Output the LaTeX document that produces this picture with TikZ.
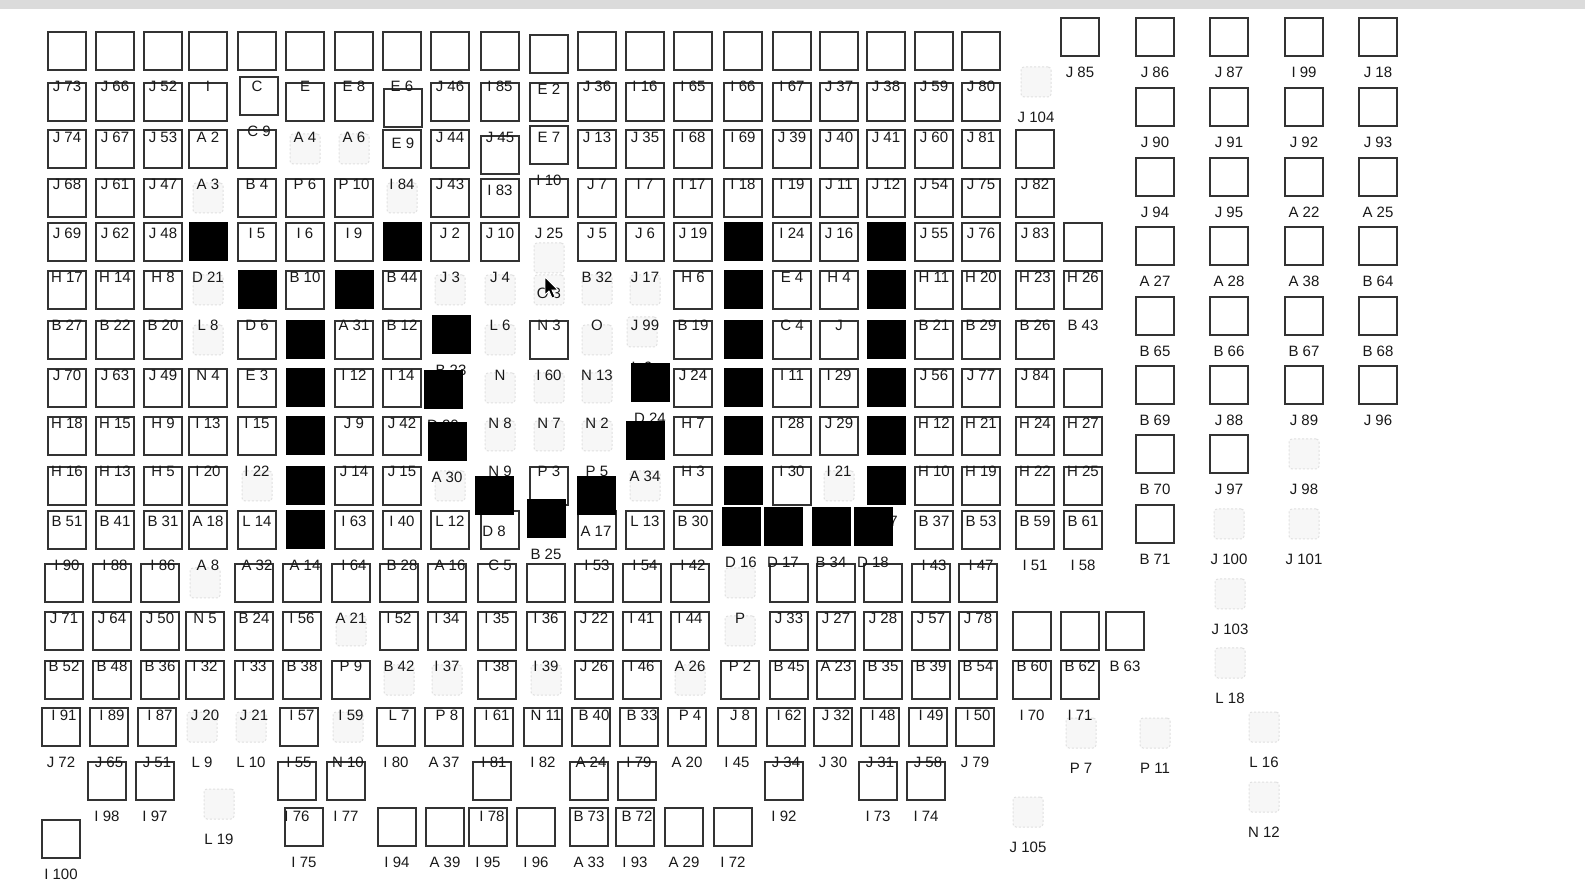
\documentclass[tikz,border=0pt]{standalone}
\usepackage{fontspec}
\setmainfont{Liberation Sans}

% column centres and label lines of the main grid (pixels)
\def\colx{{0,67,115,163,208,257,305,354,402,450,500,549,597,645,693,743,792,839,886,934,981,1035,1083,1128}}
\def\rowy{{0,86,137,184,233,277,325,375,423,471,521,565,618,666,715,762,816,862}}

% one cell: name, kind (o/f/k), x, label y, label -- drawn in passes
\def\cellpass{0}
\newcommand\putcell[5]{%
  \ifnum\cellpass=0 \if f#2\node[fcell] (sq#1) at (#3,#4-35) {};\fi\fi
  \ifnum\cellpass=1 \if o#2\node[ocell] (sq#1) at (#3,#4-35) {};\fi\fi
  \ifnum\cellpass=2 \node[tag] (lb#1) at (#3,#4) {#5};\fi
  \ifnum\cellpass=3 \if k#2\node[kcell] (sq#1) at (#3,#4-35) {};\fi\fi}

\newcommand\gridrow[3][0]{%
  \foreach \cl/\kd/\tx in {#3}{%
    \pgfmathsetmacro\cx{\colx[\cl]+#1}%
    \pgfmathsetmacro\ly{\rowy[#2]}%
    \putcell{#2-\cl}{\kd}{\cx}{\ly}{\tx}}}

\newcommand\freerow[3]{%
  \foreach \cx/\kd/\tx [count=\i] in {#3}{\putcell{#1-\i}{\kd}{\cx}{#2}{\tx}}}

\newcommand\allcells{%
  % main grid
  \gridrow{1}{1/o/J 73, 2/o/J 66, 3/o/J 52, 4/o/I, 5/o/C, 6/o/E, 7/o/E 8, 8/o/E 6, 9/o/J 46, 10/o/I 85,
    12/o/J 36, 13/o/I 16, 14/o/I 65, 15/o/I 66, 16/o/I 67, 17/o/J 37, 18/o/J 38, 19/o/J 59, 20/o/J 80}
  \putcell{1-11}{o}{549}{89}{E 2}
  \gridrow{2}{1/o/J 74, 2/o/J 67, 3/o/J 53, 4/o/A 2, 6/o/A 4, 7/o/A 6, 9/o/J 44, 10/o/J 45,
    11/o/E 7, 12/o/J 13, 13/o/J 35, 14/o/I 68, 15/o/I 69, 16/o/J 39, 17/o/J 40, 18/o/J 41, 19/o/J 60, 20/o/J 81}
  \putcell{2-5}{o}{259}{131}{C 9}
  \putcell{2-8}{o}{403}{143}{E 9}
  \gridrow{3}{1/o/J 68, 2/o/J 61, 3/o/J 47, 4/o/A 3, 5/o/B 4, 6/f/P 6, 7/f/P 10, 8/o/I 84, 9/o/J 43,
    12/o/J 7, 13/o/I 7, 14/o/I 17, 15/o/I 18, 16/o/I 19, 17/o/J 11, 18/o/J 12, 19/o/J 54, 20/o/J 75,
    21/o/J 82}
  \putcell{3-10}{o}{500}{190}{I 83}
  \putcell{3-11}{o}{549}{180}{I 10}
  \gridrow{4}{1/o/J 69, 2/o/J 62, 3/o/J 48, 4/f/, 5/o/I 5, 6/o/I 6, 7/o/I 9, 8/f/, 9/o/J 2, 10/o/J 10,
    11/o/J 25, 12/o/J 5, 13/o/J 6, 14/o/J 19, 15/o/, 16/o/I 24, 17/o/J 16, 18/o/, 19/o/J 55, 20/o/J 76,
    21/o/J 83}
  \gridrow{5}{1/o/H 17, 2/o/H 14, 3/o/H 8, 4/k/D 21, 5/o/, 6/o/B 10, 7/o/, 8/k/B 44, 9/o/J 3, 10/o/J 4,
    12/o/B 32, 13/o/J 17, 14/o/H 6, 15/k/, 16/o/E 4, 17/o/H 4, 18/k/, 19/o/H 11, 20/o/H 20,
    21/o/H 23, 22/o/H 26}
  \putcell{5-11}{f}{549}{293}{O 3}
  \gridrow{6}{1/o/B 27, 2/o/B 22, 3/o/B 20, 4/f/L 8, 5/k/D 6, 6/o/, 7/k/A 31, 8/o/B 12, 9/f/, 10/f/L 6,
    11/f/N 3, 12/f/O, 13/f/J 99, 14/o/B 19, 15/k/, 16/o/C 4, 17/o/J, 18/k/, 19/o/B 21, 20/o/B 29,
    21/o/B 26, 22/o/B 43}
  \gridrow{7}{1/o/J 70, 2/o/J 63, 3/o/J 49, 4/f/N 4, 5/o/E 3, 6/k/, 7/o/I 12, 8/o/I 14, 10/f/N,
    11/o/I 60, 12/f/N 13, 14/o/J 24, 15/k/, 16/o/I 11, 17/o/I 29, 18/k/, 19/o/J 56, 20/o/J 77,
    21/o/J 84}
  \putcell{7-9}{k}{451}{370}{B 23}
  \putcell{7-13}{f}{642}{367}{L 9}
  \gridrow{8}{1/o/H 18, 2/o/H 15, 3/o/H 9, 4/o/I 13, 5/o/I 15, 6/k/, 7/o/J 9, 8/o/J 42, 10/f/N 8,
    11/f/N 7, 12/f/N 2, 14/o/H 7, 15/k/, 16/o/I 28, 17/o/J 29, 18/k/, 19/o/H 12, 20/o/H 21,
    21/o/H 24, 22/o/H 27}
  \putcell{8-9}{k}{443}{425}{D 20}
  \putcell{8-13}{k}{650}{418}{D 24}
  \gridrow{9}{1/o/H 16, 2/o/H 13, 3/o/H 5, 4/o/I 20, 5/o/I 22, 6/k/, 7/o/J 14, 8/o/J 15, 10/f/N 9,
    11/f/P 3, 12/f/P 5, 14/o/H 3, 15/k/, 16/o/I 30, 17/o/I 21, 18/k/, 19/o/H 10, 20/o/H 19,
    21/o/H 22, 22/o/H 25}
  \putcell{9-9}{k}{447}{477}{A 30}
  \putcell{9-13}{k}{645}{476}{A 34}
  \gridrow{10}{1/o/B 51, 2/o/B 41, 3/o/B 31, 4/o/A 18, 5/f/L 14, 6/k/, 7/o/I 63, 8/o/I 40, 9/f/L 12,
    11/o/, 13/f/L 13, 14/o/B 30, 15/k/, 16/o/, 17/f/, 18/k/D 7, 19/o/B 37, 20/o/B 53,
    21/o/B 59, 22/o/B 61}
  \putcell{10-10}{k}{494}{531}{D 8}
  \putcell{10-12}{k}{596}{531}{A 17}
  \gridrow{11}{1/o/I 90, 2/o/I 88, 3/o/I 86, 4/o/A 8, 5/o/A 32, 6/k/A 14, 7/o/I 64, 8/o/B 28, 9/o/A 16, 10/o/C 5,
    12/o/I 53, 13/o/I 54, 14/o/I 42, 19/o/I 43, 20/o/I 47, 21/o/I 51, 22/o/I 58}
  \putcell{11-11}{k}{546}{554}{B 25}
  \freerow{11k}{562}{741/k/D 16, 783/k/D 17, 831/k/B 34, 873/k/D 18}
  \gridrow[-3]{12}{1/o/J 71, 2/o/J 64, 3/o/J 50, 4/f/N 5, 5/o/B 24, 6/o/I 56, 7/o/A 21, 8/o/I 52, 9/o/I 34,
    10/o/I 35, 11/o/I 36, 12/o/J 22, 13/o/I 41, 14/o/I 44, 15/f/P, 16/o/J 33, 17/o/J 27, 18/o/J 28,
    19/o/J 57, 20/o/J 78}
  \gridrow[-3]{13}{1/o/B 52, 2/o/B 48, 3/o/B 36, 4/o/I 32, 5/o/I 33, 6/o/B 38, 7/f/P 9, 8/o/B 42, 9/o/I 37,
    10/o/I 38, 11/o/I 39, 12/o/J 26, 13/o/I 46, 14/o/A 26, 15/f/P 2, 16/o/B 45, 17/o/A 23, 18/o/B 35,
    19/o/B 39, 20/o/B 54, 21/o/B 60, 22/o/B 62, 23/o/B 63}
  \gridrow[-3]{14}{1/o/I 91, 2/o/I 89, 3/o/I 87, 4/o/J 20, 5/o/J 21, 6/o/I 57, 7/o/I 59, 8/f/L 7, 9/f/P 8,
    10/o/I 61, 11/f/N 11, 12/o/B 40, 13/o/B 33, 14/f/P 4, 15/o/J 8, 16/o/I 62, 17/o/J 32, 18/o/I 48,
    19/o/I 49, 20/o/I 50, 21/o/I 70, 22/o/I 71}
  \gridrow[-6]{15}{1/o/J 72, 2/o/J 65, 3/o/J 51, 4/f/L 9, 5/f/L 10, 6/o/I 55, 7/f/N 10, 8/o/I 80, 9/o/A 37,
    10/o/I 81, 11/o/I 82, 12/o/A 24, 13/o/I 79, 14/o/A 20, 15/o/I 45, 16/o/J 34, 17/o/J 30, 18/o/J 31,
    19/o/J 58, 20/o/J 79}
  \gridrow[-8]{16}{2/o/I 98, 3/o/I 97, 6/o/I 76, 7/o/I 77, 10/o/I 78, 12/o/B 73, 13/o/B 72, 16/o/I 92,
    18/o/I 73, 19/o/I 74}
  \putcell{16-4}{f}{219}{839}{L 19}
  \freerow{17}{862}{304/o/I 75, 397/o/I 94, 445/o/A 39, 488/o/I 95, 536/o/I 96, 589/o/A 33, 635/o/I 93,
    684/o/A 29, 733/o/I 72}
  \putcell{17-1}{o}{61}{874}{I 100}
  % loose cells on the right
  \putcell{J104}{f}{1036}{117}{J 104}
  \putcell{J105}{f}{1028}{847}{J 105}
  \putcell{P7}{f}{1081}{768}{P 7}
  \putcell{P11}{f}{1155}{768}{P 11}
  \putcell{J103}{f}{1230}{629}{J 103}
  \putcell{L18}{f}{1230}{698}{L 18}
  \putcell{L16}{f}{1264}{762}{L 16}
  \putcell{N12}{f}{1264}{832}{N 12}
  % right block
  \freerow{R0}{72}{1080/o/J 85, 1155/o/J 86, 1229/o/J 87, 1304/o/I 99, 1378/o/J 18}
  \freerow{R1}{142}{1155/o/J 90, 1229/o/J 91, 1304/o/J 92, 1378/o/J 93}
  \freerow{R2}{212}{1155/o/J 94, 1229/o/J 95, 1304/o/A 22, 1378/o/A 25}
  \freerow{R3}{281}{1155/o/A 27, 1229/o/A 28, 1304/o/A 38, 1378/o/B 64}
  \freerow{R4}{351}{1155/o/B 65, 1229/o/B 66, 1304/o/B 67, 1378/o/B 68}
  \freerow{R5}{420}{1155/o/B 69, 1229/o/J 88, 1304/o/J 89, 1378/o/J 96}
  \freerow{R6}{489}{1155/o/B 70, 1229/o/J 97, 1304/f/J 98}
  \freerow{R7}{559}{1155/o/B 71, 1229/f/J 100, 1304/f/J 101}}

\begin{document}
\begin{tikzpicture}[x=0.5pt, y=-0.5pt,
    ocell/.style={rectangle, draw=black!80, line width=1.1pt, minimum size=19pt, inner sep=0pt},
    fcell/.style={rectangle, draw=black!12, fill=black!3, dash pattern=on 1pt off 1pt, line width=0.5pt, rounded corners=1.5pt, minimum size=15pt, inner sep=0pt},
    kcell/.style={rectangle, fill=black, minimum size=19.5pt, inner sep=0pt},
    tag/.style={font=\fontsize{7.5}{9}\selectfont, text=black!90, inner sep=0pt}]

    \fill[white] (0,0) rectangle (1585,881);
    \fill[black!14] (0,0) rectangle (1585,9);
    \useasboundingbox (0,0) rectangle (1585,881);

    \def\cellpass{0}\allcells % faint squares
    \def\cellpass{1}\allcells % outlined squares
    \def\cellpass{2}\allcells % labels
    \def\cellpass{3}\allcells % filled squares

    % mouse pointer
    \filldraw[fill=black, draw=white, line width=0.4pt]
      (545,277) -- (545,295) -- (549,291) -- (552,298) -- (555,297) -- (552,290) -- (558,290) -- cycle;
\end{tikzpicture}
\end{document}
